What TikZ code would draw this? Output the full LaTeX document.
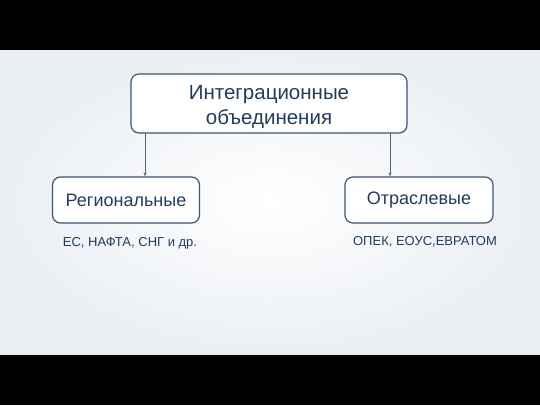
\documentclass[tikz,border=0pt]{standalone}
\usepackage{fontspec}
\setmainfont{Liberation Sans}
\usetikzlibrary{arrows.meta}
\definecolor{bgedge}{HTML}{EBEFF4}
\definecolor{boxline}{HTML}{3E5670}
\definecolor{txt}{HTML}{223C5A}
\definecolor{arr}{HTML}{5A6470}
\tikzset{
  box/.style={draw=boxline, line width=1.2pt, rounded corners=8pt, fill=white, text=txt, align=center, inner sep=0pt},
  conn/.style={draw=arr, line width=0.6pt, -{Stealth[length=4pt,width=3pt]}},
  note/.style={text=txt, font=\fontsize{13}{15}\selectfont, inner sep=0pt}
}
\begin{document}
\begin{tikzpicture}[x=1pt,y=-1pt]
\useasboundingbox (0,0) rectangle (540,405);
\fill[black] (0,0) rectangle (540,405);
\shade[inner color=white, outer color=bgedge] (0,50) rectangle (540,354);
\node[box, minimum width=276pt, minimum height=59pt] (top) at (269,103.5) {};
\node[text=txt, align=center, inner sep=0pt, font=\fontsize{20.5}{25}\selectfont] (toplabel) at (269,107) {Интеграционные\\объединения};
\node[box, minimum width=147pt, minimum height=46pt, font=\fontsize{18}{21}\selectfont] (reg) at (126,200) {Региональные};
\node[box, minimum width=148pt, minimum height=46pt, font=\fontsize{18}{21}\selectfont] (otr) at (419,200) {Отраслевые};
\coordinate (a1) at (145,133);
\coordinate (a2) at (390,133);
\draw[conn] (a1) -- (a1 |- reg.north);
\draw[conn] (a2) -- (a2 |- otr.north);
\node[note] (regnote) at (130,243) {ЕС, НАФТА, СНГ и др.};
\node[note] (otrnote) at (425,242) {ОПЕК, ЕОУС,ЕВРАТОМ};
\end{tikzpicture}
\end{document}
